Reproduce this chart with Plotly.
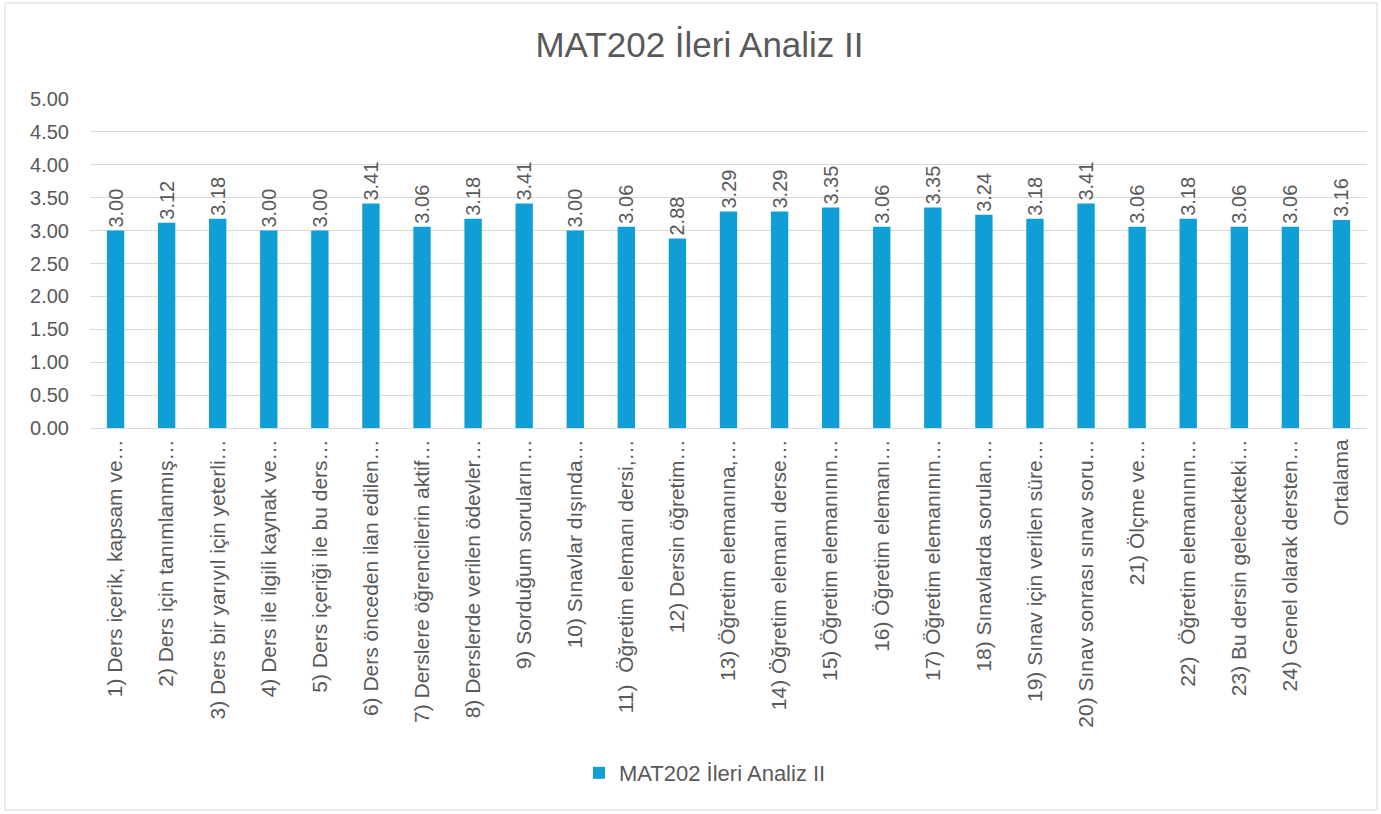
import plotly.graph_objects as go

title_text = "MAT202 İleri Analiz II"
series_name = "MAT202 İleri Analiz II"

categories = [
    "1) Ders içerik, kapsam ve…",
    "2) Ders için tanımlanmış…",
    "3) Ders bir yarıyıl için yeterli…",
    "4) Ders ile ilgili kaynak ve…",
    "5) Ders içeriği ile bu ders…",
    "6) Ders önceden ilan edilen…",
    "7) Derslere öğrencilerin aktif…",
    "8) Derslerde verilen ödevler…",
    "9) Sorduğum soruların…",
    "10) Sınavlar dışında…",
    "11)\u00a0 Öğretim elemanı dersi,…",
    "12) Dersin öğretim…",
    "13) Öğretim elemanına,…",
    "14) Öğretim elemanı derse…",
    "15) Öğretim elemanının…",
    "16) Öğretim elemanı…",
    "17) Öğretim elemanının…",
    "18) Sınavlarda sorulan…",
    "19) Sınav için verilen süre…",
    "20) Sınav sonrası sınav soru…",
    "21) Ölçme ve…",
    "22)\u00a0 Öğretim elemanının…",
    "23) Bu dersin gelecekteki…",
    "24) Genel olarak dersten…",
    "Ortalama",
]

values = [3.00, 3.12, 3.18, 3.00, 3.00, 3.41, 3.06, 3.18, 3.41, 3.00,
          3.06, 2.88, 3.29, 3.29, 3.35, 3.06, 3.35, 3.24, 3.18, 3.41,
          3.06, 3.18, 3.06, 3.06, 3.16]

y_ticks = [0, 0.5, 1, 1.5, 2, 2.5, 3, 3.5, 4, 4.5, 5]

GRAY = "#595959"
GRID = "#D9D9D9"
BLUE = "#0F9ED5"
FONT = "Liberation Sans"

fig = go.Figure()
fig.add_trace(go.Bar(
    x=categories,
    y=values,
    name=series_name,
    marker=dict(color=BLUE, line=dict(width=0)),
    texttemplate="%{y:.2f}",
    textposition="outside",
    textangle=-90,
    constraintext="none",
    textfont=dict(family=FONT, size=20, color=GRAY),
    cliponaxis=False,
    showlegend=True,
))

L, R, T, B = 90, 14, 99, 386
W, H = 1381, 814
pw = W - L - R
ph = H - T - B

fig.update_layout(
    width=W, height=H,
    margin=dict(l=L, r=R, t=T, b=B, autoexpand=False),
    paper_bgcolor="white",
    plot_bgcolor="white",
    font=dict(family=FONT, color=GRAY, size=20),
    title=dict(text=title_text, x=699.5 / W, xanchor="center", y=1 - 45 / H, yanchor="middle",
               font=dict(family=FONT, size=35, color=GRAY)),
    bargap=0.66,
    showlegend=True,
    legend=dict(orientation="h", x=(705 - L) / pw, xanchor="center", y=(428 - 773) / ph, yanchor="middle",
                font=dict(family=FONT, size=22, color=GRAY)),
    xaxis=dict(
        type="category",
        tickangle=-90,
        tickfont=dict(family=FONT, size=21, color=GRAY),
        showgrid=False,
        showline=True, linecolor=GRID, linewidth=1,
        ticks="",
        ticklabelstandoff=2,
    ),
    yaxis=dict(
        range=[0, 5],
        tickvals=y_ticks,
        tickformat=".2f",
        tickfont=dict(family=FONT, size=20, color=GRAY),
        showgrid=True, gridcolor=GRID, gridwidth=1,
        zeroline=True, zerolinecolor=GRID, zerolinewidth=1,
        showline=False,
        ticks="",
        ticklabelstandoff=20,
    ),
    shapes=[dict(
        type="rect", xref="paper", yref="paper",
        x0=(5 - L) / pw, x1=(1377 - L) / pw,
        y0=(428 - 810) / ph, y1=(428 - 3) / ph,
        line=dict(color=GRID, width=1),
        fillcolor="rgba(0,0,0,0)",
        layer="below",
    )],
)

fig.write_html("out.html", config={"displayModeBar": False},
               post_script="document.body.style.margin='0';document.body.style.padding='0';")
